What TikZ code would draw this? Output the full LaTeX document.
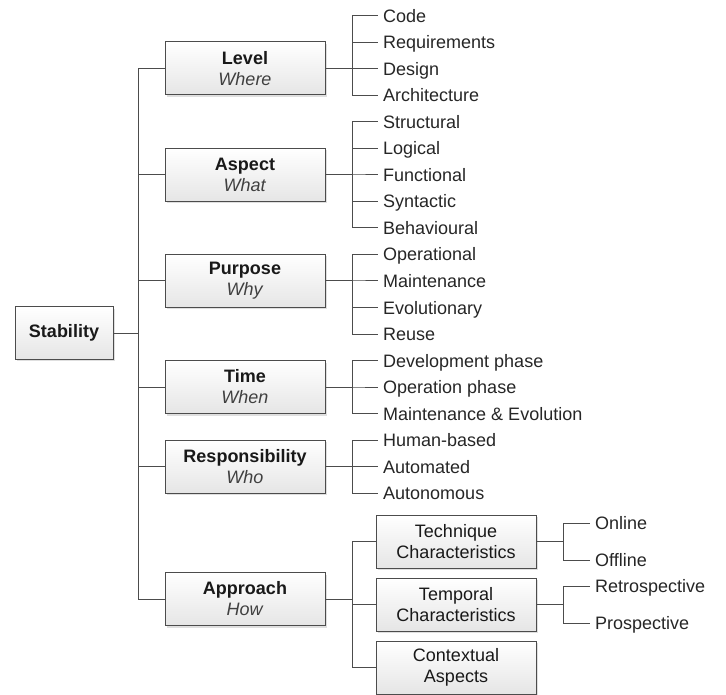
\documentclass[tikz,border=0pt]{standalone}
\usepackage{fontspec}
\setmainfont{Liberation Sans}
\usetikzlibrary{shadows}

\newcommand{\facet}[2]{\textbf{#1}\\\textcolor{black!75}{\textit{#2}}}

\begin{document}
\begin{tikzpicture}[x=1pt, y=-1pt,
    font=\fontsize{18}{21}\selectfont,
    box/.style={draw=black!70, line width=1pt, top color=white, bottom color=black!10,
        drop shadow={shadow xshift=2pt, shadow yshift=-2pt, fill=black!25, opacity=0.5},
        minimum width=160pt, minimum height=53pt, align=center, inner sep=0pt, text=black!90},
    leaf/.style={anchor=west, inner xsep=5pt, inner ysep=0pt, text height=13pt, text depth=0pt,
        text=black!85},
    link/.style={draw=black!70, line width=1pt}]
    \useasboundingbox (0,0) rectangle (726,695);

    % Root
    \node[box, minimum width=98pt, minimum height=52pt] (stab) at (64,333) {\textbf{Stability}};

    % Dimensions
    \node[box] (level) at (245,68.5) {\facet{Level}{Where}};
    \node[box] (aspect) at (245,175) {\facet{Aspect}{What}};
    \node[box] (purpose) at (245,281) {\facet{Purpose}{Why}};
    \node[box] (time) at (245,387) {\facet{Time}{When}};
    \node[box] (resp) at (245,466.5) {\facet{Responsibility}{Who}};
    \node[box] (approach) at (245,599) {\facet{Approach}{How}};

    % Trunk
    \coordinate (trunk) at (138,333);
    \foreach \n in {level,aspect,purpose,time,resp,approach}
        \draw[link] (stab.east) -- (trunk) |- (\n.west);

    % Leaves
    \foreach \t [count=\i from 0] in {Code,Requirements,Design,Architecture,
        Structural,Logical,Functional,Syntactic,Behavioural,
        Operational,Maintenance,Evolutionary,Reuse,
        Development phase,Operation phase,Maintenance \& Evolution,
        Human-based,Automated,Autonomous}
        \node[leaf] (l\i) at (378,{16+26.5*\i}) {\t};

    \foreach \i in {0,...,3}
        \draw[link] (level.east) -- ++(27,0) |- (l\i.west);
    \foreach \i in {4,...,8}
        \draw[link] (aspect.east) -- ++(27,0) |- (l\i.west);
    \foreach \i in {9,...,12}
        \draw[link] (purpose.east) -- ++(27,0) |- (l\i.west);
    \foreach \i in {13,14,15}
        \draw[link] (time.east) -- ++(27,0) |- (l\i.west);
    \foreach \i in {16,17,18}
        \draw[link] (resp.east) -- ++(27,0) |- (l\i.west);

    % Approach details
    \node[box] (tech) at (456,541.5) {Technique\\Characteristics};
    \node[box] (temp) at (456,604.5) {Temporal\\Characteristics};
    \node[box] (ctx) at (456,667.5) {Contextual\\Aspects};
    \foreach \n in {tech,temp,ctx}
        \draw[link] (approach.east) -- ++(27,0) |- (\n.west);

    \node[leaf] (on) at (590,523) {Online};
    \node[leaf] (off) at (590,560) {Offline};
    \node[leaf] (retro) at (590,586) {Retrospective};
    \node[leaf] (pro) at (590,623) {Prospective};
    \foreach \l in {on,off}
        \draw[link] (tech.east) -- ++(27,0) |- (\l.west);
    \foreach \l in {retro,pro}
        \draw[link] (temp.east) -- ++(27,0) |- (\l.west);
\end{tikzpicture}
\end{document}
